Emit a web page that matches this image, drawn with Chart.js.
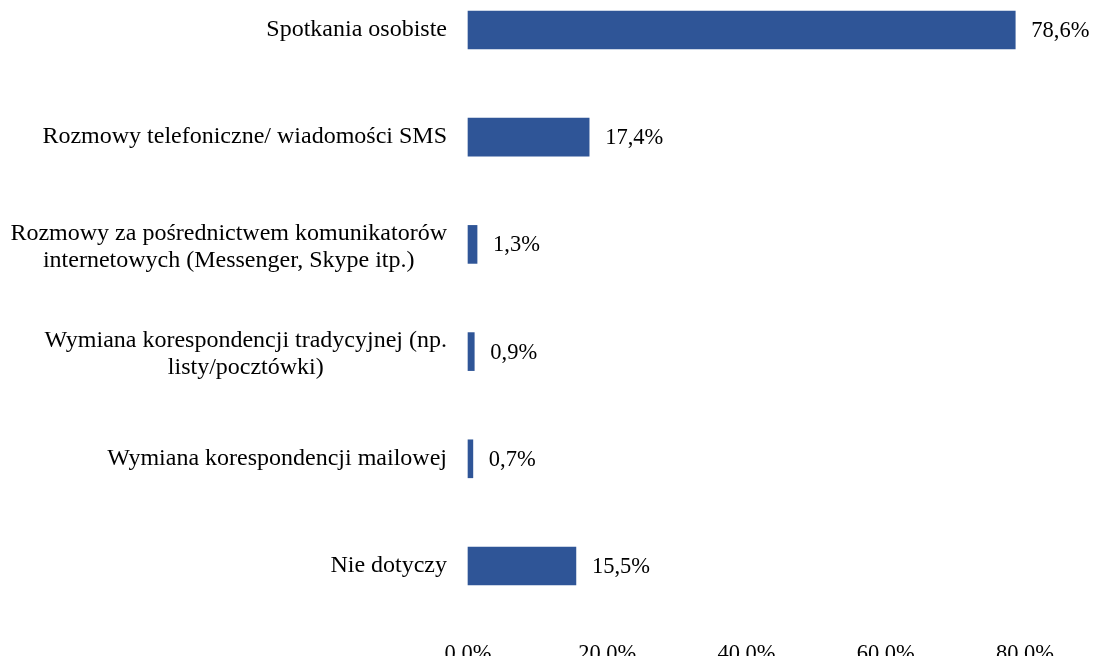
<!DOCTYPE html>
<html>
<head>
<meta charset="utf-8">
<script src="https://cdn.jsdelivr.net/npm/chart.js@4/dist/chart.umd.min.js"></script>
<style>
  html, body { margin: 0; padding: 0; background: #fff; }
  #wrap { width: 1094px; height: 656px; }
</style>
</head>
<body>
<div id="wrap"><canvas id="commChart"></canvas></div>
<script>
const categories = [
  ['Spotkania osobiste'],
  ['Rozmowy telefoniczne/ wiadomości SMS'],
  ['Rozmowy za pośrednictwem komunikatorów', 'internetowych (Messenger, Skype itp.)'],
  ['Wymiana korespondencji tradycyjnej (np.', 'listy/pocztówki)'],
  ['Wymiana korespondencji mailowej'],
  ['Nie dotyczy']
];
const shares = [78.6, 17.4, 1.3, 0.9, 0.7, 15.5];
const xMax = 80;
const xStep = 20;

const FONT = "'Liberation Serif', 'Times New Roman', serif";
const BAR_COLOR = '#2F5597';

// category names, right-aligned as a block, lines centred within it
const categoryLabels = {
  id: 'categoryLabels',
  afterDraw(chart) {
    const { ctx, scales: { y } } = chart;
    ctx.save();
    ctx.font = '24px ' + FONT;
    ctx.fillStyle = '#000';
    ctx.textBaseline = 'middle';
    ctx.textAlign = 'center';
    const right = y.right - 21;
    const lineH = 27;
    categories.forEach((lines, i) => {
      const cy = y.getPixelForValue(i) + (lines.length > 1 ? 3 : 0);
      const w = Math.max(...lines.map(l => ctx.measureText(l).width));
      const cx = right - w / 2;
      const y0 = cy - (lines.length - 1) * lineH / 2;
      lines.forEach((l, k) => ctx.fillText(l, cx, y0 + k * lineH));
    });
    ctx.restore();
  }
};

// value labels at the end of each bar
const valueLabels = {
  id: 'valueLabels',
  afterDatasetsDraw(chart) {
    const { ctx } = chart;
    const meta = chart.getDatasetMeta(0);
    ctx.save();
    ctx.font = '22.5px ' + FONT;
    ctx.fillStyle = '#000';
    ctx.textBaseline = 'middle';
    ctx.textAlign = 'left';
    meta.data.forEach((bar, i) => {
      const txt = shares[i].toFixed(1).replace('.', ',') + '%';
      ctx.fillText(txt, bar.x + 16, bar.y + 1);
    });
    ctx.restore();
  }
};

new Chart(document.getElementById('commChart'), {
  type: 'bar',
  data: {
    labels: categories.map(c => c.join(' ')),
    datasets: [{
      data: shares,
      backgroundColor: BAR_COLOR,
      borderWidth: 0,
      barThickness: 38,
      clip: false
    }]
  },
  options: {
    indexAxis: 'y',
    responsive: true,
    maintainAspectRatio: false,
    animation: false,
    layout: { padding: { top: 30, right: 69, bottom: 0, left: 0 } },
    plugins: {
      legend: { display: false },
      tooltip: { enabled: false }
    },
    scales: {
      x: {
        min: 0,
        max: xMax,
        grid: { display: false, drawTicks: false },
        border: { display: false },
        ticks: {
          stepSize: xStep,
          padding: 75,
          maxRotation: 0,
          color: '#000',
          font: { family: FONT, size: 22.5 },
          callback: v => v.toFixed(1) + '%'
        },
        afterFit: s => {
          s.height = 90;
          s.paddingLeft = 0;
          s.paddingRight = 0;
        }
      },
      y: {
        offset: false,
        grid: { display: false, drawTicks: false },
        border: { display: false },
        ticks: { display: false },
        afterFit: s => { s.width = 468; }
      }
    }
  },
  plugins: [categoryLabels, valueLabels]
});
</script>
</body>
</html>
